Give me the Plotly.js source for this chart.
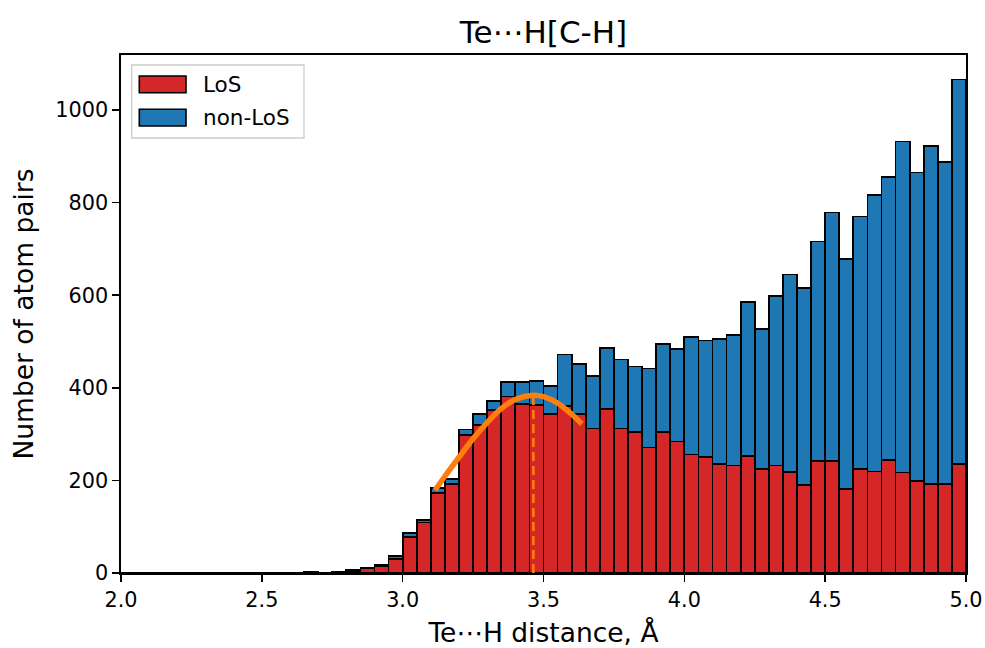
<!DOCTYPE html>
<html>
<head>
<meta charset="utf-8">
<script src="https://cdn.plot.ly/plotly-3.0.1.min.js"></script>
<style>html,body{margin:0;padding:0;background:#fff;}#chart{width:985px;height:648px;}</style>
</head>
<body>
<div id="chart"></div>
<script>
// Histogram bins: 2.00 .. 5.00 Å, width 0.05 Å (60 bins)
const binStart = 2.0;
const binWidth = 0.05;
const losCounts = [
  0,0,0,0,0,0,0,0,0,0,0,0,0,
  2,0,2,4,10,14,30,
  78,109,173,192,298,320,352,381,365,363,
  343,361,343,312,354,312,305,271,305,284,
  256,251,235,232,253,224,232,218,190,242,
  242,181,224,219,244,217,199,192,192,235
];
const nonLosCounts = [
  0,0,0,0,0,0,0,0,0,0,0,0,0,
  1,0,1,2,2,3,7,
  9,5,10,11,12,23,19,32,47,52,
  61,111,108,113,132,149,141,171,190,200,
  254,251,270,282,333,303,366,427,425,474,
  537,497,546,597,612,715,666,731,696,831
];
const seriesNames = ["LoS", "non-LoS"];
const seriesColors = ["#d62728", "#1f77b4"];
// fitted curve
const fitX = [3.115, 3.15, 3.2, 3.25, 3.3, 3.35, 3.4, 3.464, 3.5, 3.55, 3.6, 3.636];
const fitY = [179, 209, 250, 290, 325, 355, 375, 384, 381, 367, 343, 322];
const peakX = 3.464;
const peakY = 384;
const xTicks = [2.0, 2.5, 3.0, 3.5, 4.0, 4.5, 5.0];
const yTicks = [0, 200, 400, 600, 800, 1000];

const centers = losCounts.map((_, i) => binStart + binWidth * (i + 0.5));
const font = 'DejaVu Sans, sans-serif';

const traces = [
  {type:'bar', x:centers, y:losCounts, width:binWidth, name:seriesNames[0],
   marker:{color:seriesColors[0], line:{color:'#000', width:1.7}}, hoverinfo:'x+y'},
  {type:'bar', x:centers, y:nonLosCounts, width:binWidth, name:seriesNames[1],
   marker:{color:seriesColors[1], line:{color:'#000', width:1.7}}, hoverinfo:'x+y'},
  {type:'scatter', mode:'lines', x:fitX, y:fitY, line:{color:'#ff7f0e', width:5.5, shape:'spline'}, showlegend:false},
  {type:'scatter', mode:'lines', x:[peakX, peakX], y:[0, peakY], line:{color:'#ff7f0e', width:2.6, dash:'9px,5px'}, showlegend:false}
];

const lx = v => (v - 121) / 845;
const ly = v => (573 - v) / 518;

const layout = {
  width:985, height:648,
  margin:{l:121, r:19, t:55, b:75},
  paper_bgcolor:'#fff', plot_bgcolor:'#fff',
  barmode:'stack', bargap:0, showlegend:false,
  font:{family:font, color:'#000'},
  title:{text:'Te⋯H[C-H]', font:{size:31, family:font, color:'#000'}, x:0.5, xref:'paper', xanchor:'center', y:1-32/648, yref:'container', yanchor:'middle'},
  xaxis:{range:[2,5], tickvals:xTicks, ticktext:xTicks.map(v=>v.toFixed(1)),
    ticks:'outside', ticklen:7, tickwidth:1.6, tickcolor:'#000',
    showline:true, linecolor:'#000', linewidth:1.6, mirror:true, showgrid:false, zeroline:false,
    tickfont:{size:20.8, family:font, color:'#000'},
    title:{text:'Te⋯H distance, Å', font:{size:26.5, family:font, color:'#000'}, standoff:13}},
  yaxis:{range:[0,1119], tickvals:yTicks,
    ticks:'outside', ticklen:7, tickwidth:1.6, tickcolor:'#000',
    showline:true, linecolor:'#000', linewidth:1.6, mirror:true, showgrid:false, zeroline:false,
    tickfont:{size:20.8, family:font, color:'#000'},
    title:{text:'Number of atom pairs', font:{size:26.5, family:font, color:'#000'}, standoff:14}},
  shapes:[
    {type:'rect', xref:'paper', yref:'paper', x0:lx(131.7), x1:lx(304), y0:ly(138), y1:ly(65),
     line:{color:'#cccccc', width:1.3}, fillcolor:'rgba(255,255,255,0.8)', layer:'above'},
    {type:'rect', xref:'paper', yref:'paper', x0:lx(139.3), x1:lx(186), y0:ly(92.7), y1:ly(76),
     line:{color:'#000', width:1.6}, fillcolor:seriesColors[0], layer:'above'},
    {type:'rect', xref:'paper', yref:'paper', x0:lx(139.3), x1:lx(186), y0:ly(126), y1:ly(109.3),
     line:{color:'#000', width:1.6}, fillcolor:seriesColors[1], layer:'above'}
  ],
  annotations:[
    {xref:'paper', yref:'paper', x:lx(201), y:ly(84), xanchor:'left', yanchor:'middle', showarrow:false,
     text:seriesNames[0], font:{size:21.5, family:font, color:'#000'}},
    {xref:'paper', yref:'paper', x:lx(201), y:ly(118), xanchor:'left', yanchor:'middle', showarrow:false,
     text:seriesNames[1], font:{size:21.5, family:font, color:'#000'}}
  ]
};

Plotly.newPlot('chart', traces, layout, {staticPlot:true, displayModeBar:false});
</script>
</body>
</html>
